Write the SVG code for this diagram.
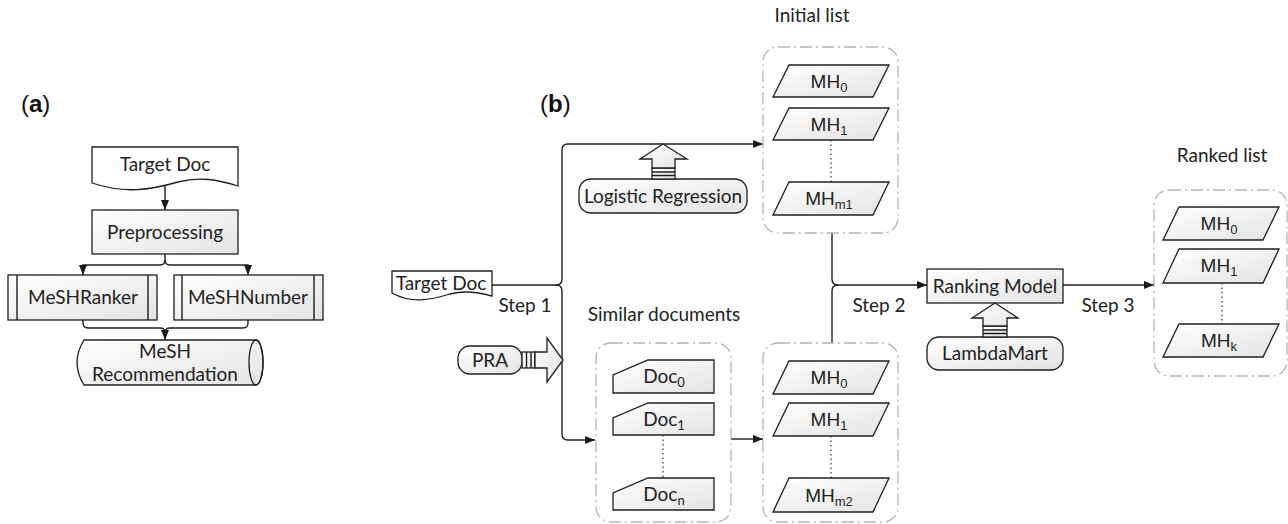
<svg xmlns="http://www.w3.org/2000/svg" width="1288" height="524" viewBox="0 0 1288 524">
<defs>
<linearGradient id="g" x1="0" y1="0" x2="1" y2="1">
<stop offset="0" stop-color="#ffffff"/>
<stop offset="1" stop-color="#e3e3e3"/>
</linearGradient>
<marker id="ah" markerWidth="10" markerHeight="8" refX="10" refY="4" orient="auto" markerUnits="userSpaceOnUse">
<path d="M0,0 L10,4 L0,8 z" fill="#1a1a1a"/>
</marker>
</defs>
<style>
.s{fill:url(#g);stroke:#1f1f1f;stroke-width:1.3}
.w{fill:#fff;stroke:#1f1f1f;stroke-width:1.3}
.c{fill:none;stroke:#1f1f1f;stroke-width:1.4}
.a{marker-end:url(#ah)}
.box{fill:none;stroke:#b5b5b5;stroke-width:1.3;stroke-dasharray:12 4 2 4}
.dot{fill:none;stroke:#333;stroke-width:1.2;stroke-dasharray:1.5 3}
.t{font-family:Lato,"Open Sans",sans-serif;font-size:19px;fill:#222;text-anchor:middle}
.m{font-family:"Liberation Sans",Arial,sans-serif;font-size:19px;fill:#222;text-anchor:middle}
.sub{font-size:13px}
.lbl{font-family:"Liberation Sans",Arial,sans-serif;font-size:24px;fill:#111}
</style>

<text class="lbl" x="21" y="112">(<tspan font-weight="bold">a</tspan>)</text>
<text class="lbl" x="540" y="112">(<tspan font-weight="bold">b</tspan>)</text>

<g id="connectors">
<path class="c a" d="M165,186 V210"/>
<path class="c a" d="M165,254 V260 Q165,265 160,265 H83 V275"/>
<path class="c a" d="M165,260 Q165,265 170,265 H248 V275"/>
<path class="c" d="M83,320 V323 Q83,328 88,328 H160 Q165,328 165,333"/>
<path class="c a" d="M248,320 V323 Q248,328 243,328 H170 Q165,328 165,333 V340"/>
<path class="c a" d="M492,285 H556 Q562,285 562,279 V150 Q562,144 568,144 H763"/>
<path class="c a" d="M556,285 Q562,285 562,291 V434 Q562,440 568,440 H595"/>
<path class="c a" d="M731,439 H763"/>
<path class="c a" d="M832,233 V279 Q832,285 838,285 H927"/>
<path class="c" d="M832,343 V291 Q832,285 838,285"/>
<path class="c a" d="M1063,285 H1154"/>
</g>

<g id="a-target-doc">
<path class="w" d="M92,147 H238 V186 C218,180 200,176 178,182 C150,190 125,194 92,183 Z"/>
<text class="t" x="165" y="171">Target Doc</text>
</g>
<g id="a-preprocessing">
<rect class="s" x="92" y="210" width="146" height="44"/>
<text class="t" x="165" y="239">Preprocessing</text>
</g>
<g id="a-meshranker">
<rect class="s" x="8" y="275" width="149" height="45"/>
<path class="c" d="M17,275 V320 M148,275 V320"/>
<text class="t" x="83" y="304">MeSHRanker</text>
</g>
<g id="a-meshnumber">
<rect class="s" x="174" y="275" width="149" height="45"/>
<path class="c" d="M182,275 V320 M314,275 V320"/>
<text class="t" x="248" y="304">MeSHNumber</text>
</g>
<g id="a-mesh-recommendation">
<path class="s" d="M84,340 H256 A7,22.5 0 0 1 256,385 H84 Q70,362.5 84,340 Z"/>
<ellipse cx="256" cy="362.5" rx="7" ry="22.5" fill="none" stroke="#1f1f1f" stroke-width="1.3"/>
<text class="t" x="165" y="358">MeSH</text>
<text class="t" x="165" y="381">Recommendation</text>
</g>

<g id="b-target-doc">
<path class="w" d="M392,271 H492 V296 C478,292 465,290 450,294 C430,300 412,304 392,293 Z"/>
<text class="t" x="441" y="290">Target Doc</text>
</g>
<text class="t" x="525" y="312">Step 1</text>

<g id="pra">
<rect class="s" x="458" y="346" width="64" height="28" rx="12"/>
<text class="t" x="490" y="367">PRA</text>
<rect class="s" x="522" y="352" width="13" height="16"/>
<path class="c" d="M526.5,352 V368 M531,352 V368"/>
<path class="s" d="M535,352 H547 V338 L563,360 L547,382 V368 H535 Z"/>
</g>

<g id="logistic-regression">
<rect class="s" x="579" y="179" width="168" height="34" rx="12"/>
<text class="t" x="663" y="203">Logistic Regression</text>
<rect class="s" x="652" y="168" width="23" height="11"/>
<path class="c" d="M652,172 H675 M652,175.5 H675"/>
<path class="s" d="M663,144 L687,159 H675 V168 H652 V159 H640 Z"/>
</g>

<g id="initial-list">
<text class="t" x="812" y="22">Initial list</text>
<rect class="box" x="763" y="47" width="135" height="186" rx="15"/>
<path class="s" d="M789,65 H889 L873,97 H773 Z"/>
<text class="m" x="829" y="88">MH<tspan class="sub" dy="4">0</tspan></text>
<path class="s" d="M789,108 H889 L873,140 H773 Z"/>
<text class="m" x="829" y="131">MH<tspan class="sub" dy="4">1</tspan></text>
<path class="dot" d="M831,140 V182"/>
<path class="s" d="M789,182 H889 L873,215 H773 Z"/>
<text class="m" x="829" y="205">MH<tspan class="sub" dy="4">m1</tspan></text>
</g>

<g id="similar-documents">
<text class="t" x="664" y="321">Similar documents</text>
<rect class="box" x="596" y="343" width="135" height="179" rx="15"/>
<path class="s" d="M613,393 V375 L648,360 H714 V393 Z"/>
<text class="t" x="664" y="383">Doc<tspan class="sub" dy="4">0</tspan></text>
<path class="s" d="M613,435 V418 L648,403 H714 V435 Z"/>
<text class="t" x="664" y="426">Doc<tspan class="sub" dy="4">1</tspan></text>
<path class="dot" d="M663,435 V478"/>
<path class="s" d="M613,510 V493 L648,478 H714 V510 Z"/>
<text class="t" x="664" y="501">Doc<tspan class="sub" dy="4">n</tspan></text>
</g>

<g id="mh-list-2">
<rect class="box" x="763" y="343" width="135" height="179" rx="15"/>
<path class="s" d="M789,361 H889 L873,394 H773 Z"/>
<text class="m" x="829" y="384">MH<tspan class="sub" dy="4">0</tspan></text>
<path class="s" d="M789,403 H889 L873,436 H773 Z"/>
<text class="m" x="829" y="426">MH<tspan class="sub" dy="4">1</tspan></text>
<path class="dot" d="M831,436 V478"/>
<path class="s" d="M789,478 H889 L873,512 H773 Z"/>
<text class="m" x="829" y="502">MH<tspan class="sub" dy="4">m2</tspan></text>
</g>
<text class="t" x="879" y="312">Step 2</text>

<g id="ranking-model">
<rect class="s" x="927" y="269" width="136" height="34"/>
<text class="t" x="995" y="293">Ranking Model</text>
</g>
<g id="lambdamart">
<rect class="s" x="927" y="337" width="136" height="33" rx="12"/>
<text class="t" x="995" y="360">LambdaMart</text>
<rect class="s" x="983" y="326" width="24" height="11"/>
<path class="c" d="M983,330 H1007 M983,333.5 H1007"/>
<path class="s" d="M995,303 L1018,318 H1007 V326 H983 V318 H972 Z"/>
</g>
<text class="t" x="1108" y="312">Step 3</text>

<g id="ranked-list">
<text class="t" x="1222" y="162">Ranked list</text>
<rect class="box" x="1154" y="190" width="133" height="186" rx="15"/>
<path class="s" d="M1179,207 H1279 L1263,240 H1163 Z"/>
<text class="m" x="1219" y="230">MH<tspan class="sub" dy="4">0</tspan></text>
<path class="s" d="M1179,249 H1279 L1263,283 H1163 Z"/>
<text class="m" x="1219" y="272">MH<tspan class="sub" dy="4">1</tspan></text>
<path class="dot" d="M1222,283 V324"/>
<path class="s" d="M1179,324 H1279 L1263,357 H1163 Z"/>
<text class="m" x="1219" y="347">MH<tspan class="sub" dy="4">k</tspan></text>
</g>
</svg>
